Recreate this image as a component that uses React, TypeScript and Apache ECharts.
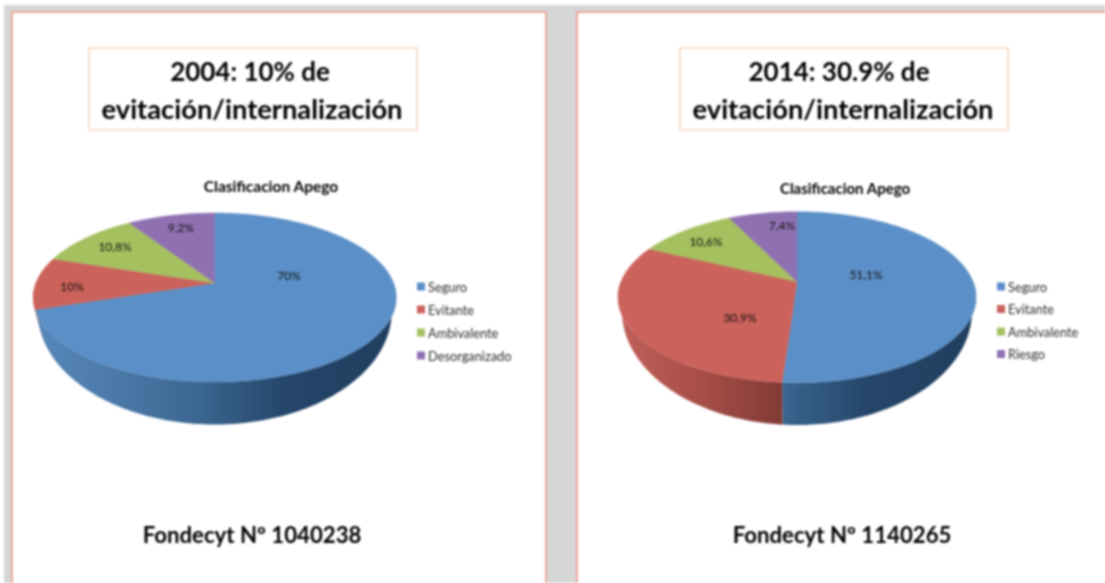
import React, { useEffect, useRef } from "react";
import * as echarts from "echarts";

const categories2004 = ["Seguro", "Evitante", "Ambivalente", "Desorganizado"];
const values2004 = [70, 10, 10.8, 9.2];
const categories2014 = ["Seguro", "Evitante", "Ambivalente", "Riesgo"];
const values2014 = [51.1, 30.9, 10.6, 7.4];
const headings2004 = ["2004: 10% de", "evitación/internalización"];
const headings2014 = ["2014: 30.9% de", "evitación/internalización"];
const footer2004 = "Fondecyt Nº 1040238";
const footer2014 = "Fondecyt Nº 1140265";
const chartTitle = "Clasificacion Apego";

const FONT = "Lato";
const sliceColors = ["#5b8fc7", "#cb625b", "#a4c05f", "#8f71b2"];
const sideStops = [
  [[-180, "#5787ba"], [-100, "#4b79a8"], [-15, "#3a6690"], [70, "#25466a"], [180, "#203e5e"]],
  [[-180, "#c0605a"], [-100, "#a94f48"], [-15, "#823a35"], [180, "#6d2f2b"]],
  [[-180, "#7d9445"], [180, "#5f7233"]],
  [[-180, "#6d5588"], [180, "#534068"]],
];

const geom2004 = { cx: 214.7, cy: 283, far: 70, near: 99, rx: 181.5, botY: 424.5, botCy: 311, botRy: 113, botRx: 177 };
const geom2014 = { cx: 797, cy: 281.7, far: 70, near: 101, rx: 179, botY: 425, botCy: 311, botRy: 114, botRx: 175 };
const labelPos2004 = [[289, 275], [72, 286], [115, 246], [181, 227]];
const labelPos2014 = [[866, 274], [740, 317], [706, 241], [782, 225]];

function projector(g: any) {
  const k = (g.near - g.far) / (g.near + g.far);
  const B = g.far * (1 + k);
  const A = g.rx * Math.sqrt(1 - k * k);
  const kb = k;
  const Bb = g.botRy * (1 - kb * kb);
  const Ab = g.botRx * Math.sqrt(1 - kb * kb);
  const by = g.botY - Bb / (1 - kb);
  return {
    top: (t: number) => {
      const u = Math.sin(t), v = Math.cos(t), d = 1 + k * v;
      return [g.cx + (A * u) / d, g.cy - (B * v) / d];
    },
    bottom: (t: number) => {
      const u = Math.sin(t), v = Math.cos(t), d = 1 + kb * v;
      return [g.cx + (Ab * u) / d, by - (Bb * v) / d];
    },
  };
}

function sliceSeries(names: string[], values: number[], g: any, labelPos: number[][]) {
  const proj = projector(g);
  let acc = 0;
  return values.map((val, i) => {
    const start = acc;
    acc += val;
    const end = acc;
    return {
      type: "custom",
      name: names[i],
      coordinateSystem: "none",
      silent: true,
      itemStyle: { color: sliceColors[i] },
      data: [[start, end, val]],
      renderItem: (_p: any, api: any) => {
        const a = (api.value(0) / 100) * Math.PI * 2;
        const b = (api.value(1) / 100) * Math.PI * 2;
        const step = Math.PI / 180;
        const arc = (f: (t: number) => number[], s: number, e: number) => {
          const pts: number[][] = [];
          const n = Math.max(1, Math.ceil((e - s) / step));
          for (let j = 0; j <= n; j++) pts.push(f(s + ((e - s) * j) / n));
          return pts;
        };
        const children: any[] = [];
        const sa = Math.max(a, Math.PI * 0.5);
        const sb = Math.min(b, Math.PI * 1.5);
        if (sb > sa) {
          const stops = sideStops[i] as any[];
          const x0 = g.cx - 180, x1 = g.cx + 180;
          const fill = new (echarts.graphic as any).LinearGradient(
            x0, 0, x1, 0,
            stops.map((s) => ({ offset: (s[0] + 180) / 360, color: s[1] })),
            true
          );
          children.push({
            type: "polygon",
            z2: 1,
            shape: { points: [...arc(proj.top, sa, sb), ...arc(proj.bottom, sa, sb).reverse()] },
            style: { fill },
          });
        }
        children.push({
          type: "polygon",
          z2: 2,
          shape: { points: [[g.cx, g.cy], ...arc(proj.top, a, b)] },
          style: { fill: sliceColors[i], stroke: sliceColors[i], lineWidth: 0.4 },
        });
        children.push({
          type: "text",
          z2: 3,
          style: {
            text: String(api.value(2)).replace(".", ",") + "%",
            x: labelPos[i][0],
            y: labelPos[i][1],
            align: "center",
            verticalAlign: "middle",
            fontFamily: FONT,
            fontSize: 12,
            fill: "#111111",
          },
        });
        return { type: "group", children };
      },
    };
  });
}

function centerText(text: string, x: number, y: number, size: number, weight: any, color = "#000000") {
  return {
    type: "text",
    x,
    y,
    style: { text, align: "center", verticalAlign: "middle", fontFamily: FONT, fontSize: size, fontWeight: weight, fill: color },
  };
}

function slideRect(x: number, y: number, w: number, h: number) {
  return { type: "rect", shape: { x, y, width: w, height: h }, style: { fill: "#ffffff", stroke: "#e9a797", lineWidth: 2 } };
}
function boxRect(x: number, y: number, w: number, h: number) {
  return { type: "rect", shape: { x, y, width: w, height: h }, style: { fill: "#ffffff", stroke: "#fbdfcd", lineWidth: 2 } };
}

function legendOf(names: string[], left: number, top: number, gap: number) {
  return {
    data: names,
    orient: "vertical",
    left,
    top,
    padding: 0,
    itemWidth: 8,
    itemHeight: 8,
    itemGap: gap,
    selectedMode: false,
    icon: "rect",
    textStyle: { fontFamily: FONT, fontSize: 12.8, color: "#2a2a2a", padding: [0, 0, 0, -2] },
  };
}

export default function App() {
  const ref = useRef<HTMLDivElement>(null);
  useEffect(() => {
    if (!ref.current) return;
    const chart = echarts.init(ref.current, undefined, { renderer: "svg" });
    chart.setOption({
      animation: false,
      backgroundColor: "#ffffff",
      title: [
        { text: chartTitle, left: 271, top: 186, textAlign: "center", textVerticalAlign: "middle", padding: 0,
          textStyle: { fontFamily: FONT, fontSize: 15.5, fontWeight: "bold", color: "#000000" } },
        { text: chartTitle, left: 845, top: 188, textAlign: "center", textVerticalAlign: "middle", padding: 0,
          textStyle: { fontFamily: FONT, fontSize: 15, fontWeight: "bold", color: "#000000" } },
      ],
      legend: [
        legendOf(categories2004, 417, 280, 10),
        legendOf(categories2014, 997, 280, 9.5),
      ],
      graphic: [
        { type: "rect", shape: { x: 4, y: 5, width: 1101, height: 578 }, style: { fill: "#d6d6d6" } },
        slideRect(12, 12, 534, 580),
        slideRect(577, 12, 540, 580),
        boxRect(89, 48, 328, 82),
        boxRect(680, 48, 328, 82),
        centerText(headings2004[0], 250, 71, 26, "bold"),
        centerText(headings2004[1], 252, 108, 27.3, "bold"),
        centerText(headings2014[0], 839, 71, 26, "bold"),
        centerText(headings2014[1], 843, 108, 27.3, "bold"),
        centerText(footer2004, 252, 534.5, 22.2, "bold"),
        centerText(footer2014, 842, 534.5, 22.2, "bold"),
      ],
      series: [
        ...sliceSeries(categories2004, values2004, geom2004, labelPos2004),
        ...sliceSeries(categories2014, values2014, geom2014, labelPos2014),
      ],
    });
    return () => chart.dispose();
  }, []);
  return (
    <div
      ref={ref}
      style={{ position: "absolute", left: 0, top: 0, width: 1105, height: 583, filter: "blur(0.8px)" }}
    />
  );
}
